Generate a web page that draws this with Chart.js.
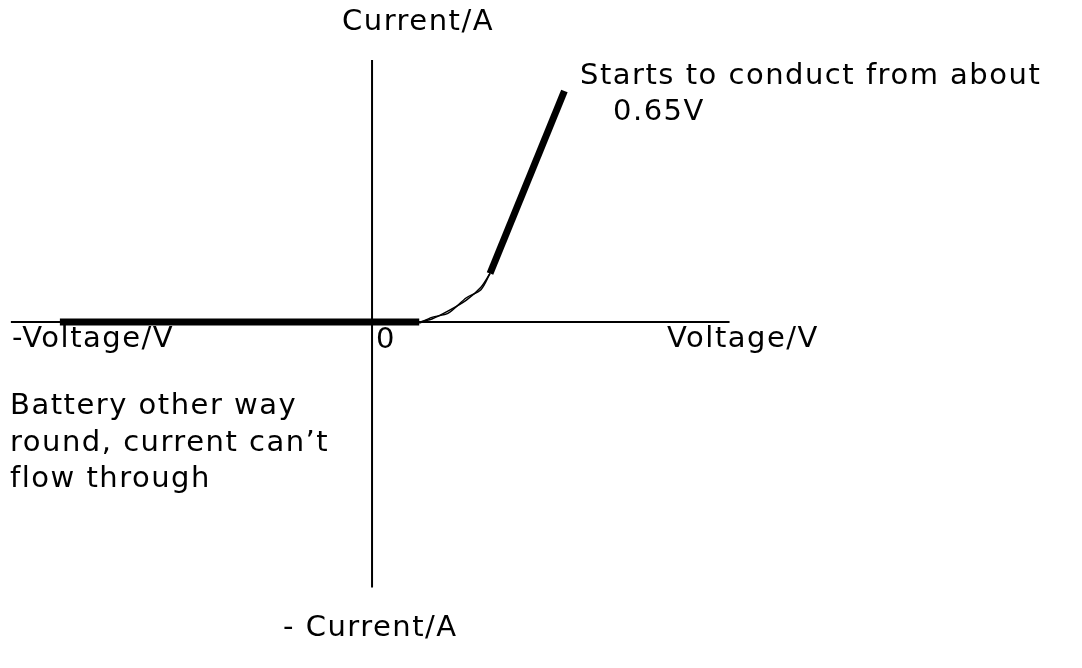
<!DOCTYPE html>
<html>
<head>
<meta charset="utf-8">
<script src="https://cdn.jsdelivr.net/npm/chart.js@4.4.0/dist/chart.umd.min.js"></script>
<style>
  html, body { margin: 0; padding: 0; background: #fff; }
  #wrap { position: relative; width: 1082px; height: 668px; }
</style>
</head>
<body>
<div id="wrap"><canvas id="chart"></canvas></div>
<script>
// diode I-V sketch, voltage in V, current in mA (arbitrary)
const reverseV = [-1.72, 0.26];
const reverseI = [0, 0];
const kneeV = [0.26, 0.33, 0.42, 0.52, 0.60, 0.65];
const kneeI = [0, 0.13, 0.48, 0.95, 1.5, 2.1];
const kneeI2 = [-0.05, 0.2, 0.38, 1.05, 1.4, 2.1];
const forwardV = [1.06, 0.65];
const forwardI = [10.0, 2.1];

const axisXV = [-1.99, 1.97];
const axisYI = [11.34, -11.5];

const labels = [
  { text: 'Current/A', x: 342, y: 22 },
  { text: 'Starts to conduct from about', x: 580, y: 76 },
  { text: '0.65V', x: 613, y: 112 },
  { text: '-Voltage/V', x: 12, y: 339 },
  { text: '0', x: 376, y: 340 },
  { text: 'Voltage/V', x: 667, y: 339 },
  { text: 'Battery other way', x: 10, y: 406 },
  { text: 'round, current can\u2019t', x: 10, y: 443 },
  { text: 'flow through', x: 10, y: 479 },
  { text: '- Current/A', x: 283, y: 628 }
];

const pts = (xs, ys) => xs.map((x, i) => ({ x: x, y: ys[i] }));

const textPlugin = {
  id: 'sketchText',
  afterDraw(chart) {
    const ctx = chart.ctx;
    ctx.save();
    ctx.fillStyle = '#000';
    ctx.font = '29px "DejaVu Sans", sans-serif';
    ctx.letterSpacing = '1.5px';
    ctx.textBaseline = 'middle';
    ctx.textAlign = 'left';
    labels.forEach(l => ctx.fillText(l.text, l.x, l.y));
    ctx.restore();
  }
};

new Chart(document.getElementById('chart'), {
  type: 'scatter',
  data: {
    datasets: [
      { data: pts(axisXV, [0, 0]), borderColor: '#000', borderWidth: 2, showLine: true, pointRadius: 0 },
      { data: pts([0, 0], axisYI), borderColor: '#000', borderWidth: 2, showLine: true, pointRadius: 0 },
      { data: pts(reverseV, reverseI), borderColor: '#000', borderWidth: 7, borderCapStyle: 'butt', showLine: true, pointRadius: 0 },
      { data: pts(kneeV, kneeI), borderColor: '#000', borderWidth: 1.5, tension: 0.3, showLine: true, pointRadius: 0 },
      { data: pts(kneeV, kneeI2), borderColor: '#000', borderWidth: 1.5, tension: 0.3, showLine: true, pointRadius: 0 },
      { data: pts(forwardV, forwardI), borderColor: '#000', borderWidth: 7, borderCapStyle: 'butt', showLine: true, pointRadius: 0 }
    ]
  },
  options: {
    responsive: true,
    maintainAspectRatio: false,
    animation: false,
    layout: { padding: 0 },
    plugins: { legend: { display: false }, tooltip: { enabled: false } },
    scales: {
      x: { type: 'linear', min: -2.05, max: 3.912, display: false },
      y: { type: 'linear', min: -14.98, max: 13.94, display: false }
    }
  },
  plugins: [textPlugin]
});
</script>
</body>
</html>
